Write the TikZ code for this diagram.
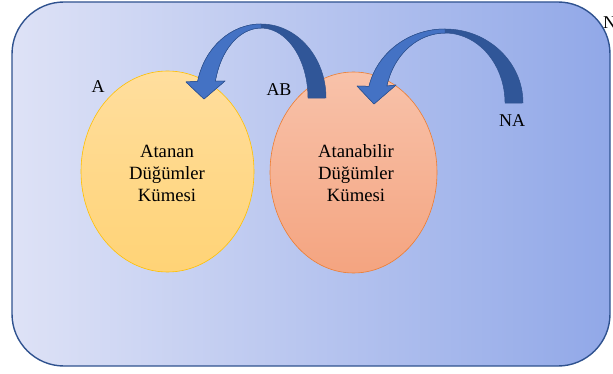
\documentclass[tikz,border=0pt]{standalone}
\usepackage{fontspec}
\setmainfont{Liberation Serif}
\usetikzlibrary{shapes.geometric}
\definecolor{frameL}{RGB}{222,226,246}
\definecolor{frameR}{RGB}{145,168,232}
\definecolor{frameEdge}{RGB}{47,82,143}
\definecolor{yelTop}{RGB}{255,222,158}
\definecolor{yelBot}{RGB}{255,211,118}
\definecolor{yelEdge}{RGB}{255,192,0}
\definecolor{salTop}{RGB}{248,194,170}
\definecolor{salBot}{RGB}{244,164,128}
\definecolor{salEdge}{RGB}{237,125,49}
\definecolor{arrLight}{RGB}{68,114,196}
\definecolor{arrDark}{RGB}{48,86,152}
\definecolor{arrEdge}{RGB}{47,82,143}
\tikzset{
  frame/.style={draw=frameEdge, line width=1.4pt, rounded corners=52pt,
    left color=frameL, right color=frameR, inner sep=0pt},
  setA/.style={ellipse, draw=yelEdge, line width=0.6pt, top color=yelTop,
    bottom color=yelBot, inner sep=0pt, align=center},
  setB/.style={ellipse, draw=salEdge, line width=0.6pt, top color=salTop,
    bottom color=salBot, inner sep=0pt, align=center},
  lbl/.style={font=\fontsize{18}{21}\selectfont, inner sep=0pt},
  settext/.style={font=\fontsize{18.7}{22}\selectfont},
  arrowback/.style={fill=arrDark, draw=arrEdge, line width=0.5pt, line join=round},
  arrowfront/.style={fill=arrLight, draw=arrEdge, line width=0.5pt, line join=round}
}
\begin{document}
\begin{tikzpicture}[x=1pt, y=-1pt]
\useasboundingbox (0,0) rectangle (613,374);
\node[frame, minimum width=598pt, minimum height=364pt] (frame) at (311,184) {};
% sets
\node[setA, minimum width=173pt, minimum height=201pt] (setA) at (167.5,171.5) {};
\node[settext, align=center] (textA) at (167,173) {Atanan\\Düğümler\\Kümesi};
\node[setB, minimum width=167pt, minimum height=201pt] (setB) at (353.5,172.5) {};
\node[settext, align=center] (textB) at (356,173) {Atanabilir\\Düğümler\\Kümesi};
% labels
\node[lbl] (lA) at (98,87) {A};
\node[lbl] (lAB) at (279,90) {AB};
\node[lbl] (lNA) at (512,121) {NA};
\node[lbl, anchor=west] (lN) at (603,23) {N};
% arrow 1 (AB -> A)
\coordinate (t1) at (326,98);
\path[arrowback] (t1) arc[start angle=0, end angle=-167, x radius=65, y radius=74]
  -- (186,82) -- (204,99) -- (225,81) -- (215.4,81.1)
  arc[start angle=-166, end angle=0, x radius=47, y radius=70] -- cycle;
\path[arrowfront] (261,24) arc[start angle=-90, end angle=-167, x radius=65, y radius=74]
  -- (186,82) -- (204,99) -- (225,81) -- (215.4,81.1)
  arc[start angle=-166, end angle=-90, x radius=47, y radius=70] -- cycle;
% arrow 2 (NA -> AB)
\coordinate (t2) at (523,103);
\path[arrowback] (t2) arc[start angle=0, end angle=-167, x radius=78, y radius=74]
  -- (357,86) -- (374,104) -- (396,85) -- (386.8,86.1)
  arc[start angle=-166, end angle=0, x radius=60, y radius=70] -- cycle;
\path[arrowfront] (445,29) arc[start angle=-90, end angle=-167, x radius=78, y radius=74]
  -- (357,86) -- (374,104) -- (396,85) -- (386.8,86.1)
  arc[start angle=-166, end angle=-90, x radius=60, y radius=70] -- cycle;
\end{tikzpicture}
\end{document}
